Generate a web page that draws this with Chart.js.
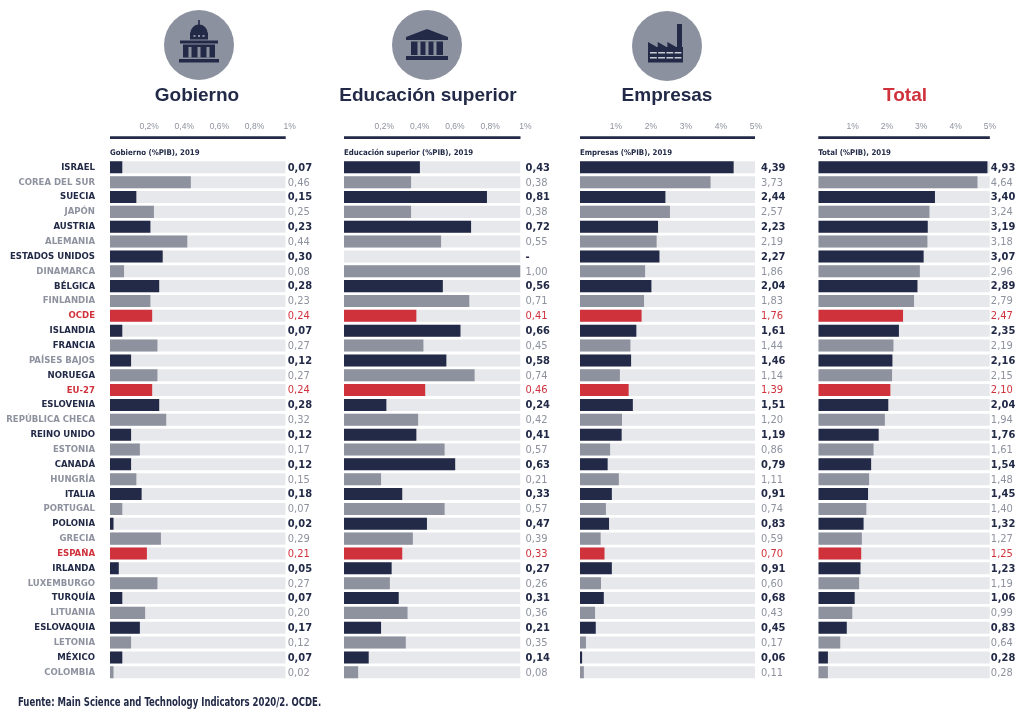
<!DOCTYPE html>
<html lang="es">
<head>
<meta charset="utf-8">
<title>I+D por sector (%PIB), 2019</title>
<script src="https://cdn.jsdelivr.net/npm/chart.js@4.4.1/dist/chart.umd.min.js"></script>
<style>
  html, body { margin: 0; padding: 0; background: #fff; }
  #lienzo { position: relative; width: 1024px; height: 720px; overflow: hidden; }
  #lienzo canvas { position: absolute; left: 0; top: 0; }
  .titulo {
    position: absolute; top: 84px; line-height: 23px; white-space: nowrap;
    transform: translateX(-50%);
    font: bold 19px "Liberation Sans", Arial, sans-serif; color: #222a47;
  }
  .fuente {
    position: absolute; left: 18px; top: 695px; line-height: 16px; white-space: nowrap;
    transform-origin: 0 50%; transform: scaleX(0.79);
    font: bold 12px "DejaVu Sans Condensed", "Liberation Sans", sans-serif;
    color: #222a47;
  }
</style>
</head>
<body>
<div id="lienzo">
  <canvas id="iconos" width="1024" height="720"></canvas>
  <canvas id="c1"></canvas>
  <canvas id="c2"></canvas>
  <canvas id="c3"></canvas>
  <canvas id="c4"></canvas>
  <div class="titulo" style="left:197px">Gobierno</div>
  <div class="titulo" style="left:428px">Educación superior</div>
  <div class="titulo" style="left:667px">Empresas</div>
  <div class="titulo" style="left:905px;color:#d0323c">Total</div>
  <div class="fuente">Fuente: Main Science and Technology Indicators 2020/2. OCDE.</div>
</div>
<script>
// --- DATOS (%PIB, 2019) ---
const paises = ['ISRAEL', 'COREA DEL SUR', 'SUECIA', 'JAPÓN', 'AUSTRIA', 'ALEMANIA', 'ESTADOS UNIDOS',
  'DINAMARCA', 'BÉLGICA', 'FINLANDIA', 'OCDE', 'ISLANDIA', 'FRANCIA', 'PAÍSES BAJOS', 'NORUEGA', 'EU-27',
  'ESLOVENIA', 'REPÚBLICA CHECA', 'REINO UNIDO', 'ESTONIA', 'CANADÁ', 'HUNGRÍA', 'ITALIA', 'PORTUGAL',
  'POLONIA', 'GRECIA', 'ESPAÑA', 'IRLANDA', 'LUXEMBURGO', 'TURQUÍA', 'LITUANIA', 'ESLOVAQUIA', 'LETONIA',
  'MÉXICO', 'COLOMBIA'];

const gobierno = [0.07, 0.46, 0.15, 0.25, 0.23, 0.44, 0.30, 0.08, 0.28, 0.23, 0.24, 0.07, 0.27, 0.12, 0.27,
  0.24, 0.28, 0.32, 0.12, 0.17, 0.12, 0.15, 0.18, 0.07, 0.02, 0.29, 0.21, 0.05, 0.27, 0.07, 0.20, 0.17, 0.12,
  0.07, 0.02];

const educacion = [0.43, 0.38, 0.81, 0.38, 0.72, 0.55, null, 1.00, 0.56, 0.71, 0.41, 0.66, 0.45, 0.58, 0.74,
  0.46, 0.24, 0.42, 0.41, 0.57, 0.63, 0.21, 0.33, 0.57, 0.47, 0.39, 0.33, 0.27, 0.26, 0.31, 0.36, 0.21, 0.35,
  0.14, 0.08];

const empresas = [4.39, 3.73, 2.44, 2.57, 2.23, 2.19, 2.27, 1.86, 2.04, 1.83, 1.76, 1.61, 1.44, 1.46, 1.14,
  1.39, 1.51, 1.20, 1.19, 0.86, 0.79, 1.11, 0.91, 0.74, 0.83, 0.59, 0.70, 0.91, 0.60, 0.68, 0.43, 0.45, 0.17,
  0.06, 0.11];

const total = [4.93, 4.64, 3.40, 3.24, 3.19, 3.18, 3.07, 2.96, 2.89, 2.79, 2.47, 2.35, 2.19, 2.16, 2.15,
  2.10, 2.04, 1.94, 1.76, 1.61, 1.54, 1.48, 1.45, 1.40, 1.32, 1.27, 1.25, 1.23, 1.19, 1.06, 0.99, 0.83, 0.64,
  0.28, 0.28];

// o = oscuro, c = claro, r = rojo (medias y España)
const tonoBarra = ['o','c','o','c','o','c','o','c','o','c','r','o','c','o','c','r','o','c','o','c','o','c',
  'o','c','o','c','r','o','c','o','c','o','c','o','c'];
const tonoEtiqueta = ['o','c','o','c','o','c','o','c','o','c','r','o','o','c','o','r','o','c','o','c','o','c',
  'o','c','o','c','r','o','c','o','c','o','c','o','c'];

const ticksUno = [0.2, 0.4, 0.6, 0.8, 1];
const ticksCinco = [1, 2, 3, 4, 5];
const maxUno = 1;
const maxCinco = 5;

// --- ESTILO ---
const AZUL = '#222a47';
const GRIS = '#8e929f';
const ROJO = '#d0323c';
const FONDO = '#e7e8eb';
const COND = '"DejaVu Sans Condensed", "Liberation Sans", sans-serif';
const SANS = '"Liberation Sans", Arial, sans-serif';

const colorTono = t => t === 'r' ? ROJO : (t === 'o' ? AZUL : GRIS);
const fmt = v => v === null ? '-' : v.toFixed(2).replace('.', ',');

const AREA_TOP = 159.9;
const AREA_BOTTOM = 679.7;
const LINEA_Y = 137.7;
const SUB_Y = 153.3;

function pluginPanel(subtitulo, valores, dx) {
  return {
    id: 'panel',
    afterDatasetsDraw(chart) {
      const { ctx, chartArea } = chart;
      const y = chart.scales.y;
      ctx.save();
      // línea del eje
      ctx.strokeStyle = AZUL;
      ctx.lineWidth = 2.8;
      ctx.beginPath();
      ctx.moveTo(chartArea.left, LINEA_Y);
      ctx.lineTo(chartArea.right, LINEA_Y);
      ctx.stroke();
      // subtítulo
      ctx.fillStyle = AZUL;
      ctx.font = 'bold 7.8px ' + COND;
      ctx.textBaseline = 'middle';
      ctx.textAlign = 'left';
      ctx.fillText(subtitulo, chartArea.left, SUB_Y);
      // valores
      valores.forEach((v, i) => {
        const t = tonoBarra[i];
        ctx.fillStyle = colorTono(t);
        ctx.font = (t === 'o' ? 'bold ' : '') + '11px ' + COND;
        ctx.fillText(fmt(v), chartArea.right + dx, y.getPixelForValue(i) + 0.5);
      });
      ctx.restore();
    }
  };
}

function crearPanel(id, valores, max, ticks, izq, der, subtitulo, dx, offTick, conPaises) {
  return new Chart(document.getElementById(id), {
    type: 'bar',
    data: {
      labels: paises,
      datasets: [
        {
          data: valores,
          backgroundColor: tonoBarra.map(colorTono),
          order: 0
        },
        {
          data: paises.map(() => max),
          backgroundColor: FONDO,
          order: 1
        }
      ]
    },
    options: {
      indexAxis: 'y',
      responsive: false,
      animation: false,
      events: [],
      datasets: {
        bar: { grouped: false, barPercentage: 0.81, categoryPercentage: 1, borderWidth: 0 }
      },
      layout: {
        padding: { left: 0, right: 1024 - der, top: 0, bottom: 720 - AREA_BOTTOM }
      },
      plugins: { legend: { display: false }, tooltip: { enabled: false } },
      scales: {
        x: {
          position: 'top',
          min: 0,
          max: max,
          grid: { display: false, drawTicks: false },
          border: { display: false },
          afterFit: s => { s.height = AREA_TOP; },
          afterBuildTicks: s => { s.ticks = ticks.map(v => ({ value: v })); },
          ticks: {
            color: GRIS,
            font: { family: SANS, size: 8.5 },
            padding: 28,
            labelOffset: offTick,
            maxRotation: 0,
            autoSkip: false,
            callback: v => String(v).replace('.', ',') + '%'
          }
        },
        y: {
          display: conPaises,
          grid: { display: false, drawTicks: false },
          border: { display: false },
          afterFit: s => { s.width = izq; },
          ticks: {
            autoSkip: false,
            padding: 15,
            color: c => colorTono(tonoEtiqueta[c.index]),
            font: { family: COND, size: 9.5, weight: 'bold' }
          }
        }
      }
    },
    plugins: [pluginPanel(subtitulo, valores, dx)]
  });
}

['c1', 'c2', 'c3', 'c4'].forEach(id => {
  const c = document.getElementById(id);
  c.width = 1024; c.height = 720;
});

crearPanel('c1', gobierno, maxUno, ticksUno, 110, 285.7, 'Gobierno (%PIB), 2019', 2, 4, true);
crearPanel('c2', educacion, maxUno, ticksUno, 344, 520.5, 'Educación superior (%PIB), 2019', 5, 5, false);
crearPanel('c3', empresas, maxCinco, ticksCinco, 580, 755, 'Empresas (%PIB), 2019', 6, 1, false);
crearPanel('c4', total, maxCinco, ticksCinco, 818.3, 993.3, 'Total (%PIB), 2019', 1, 0, false);

// --- ICONOS ---
const ic = document.getElementById('iconos').getContext('2d');

function circulo(x, y) {
  ic.fillStyle = '#8c919f';
  ic.beginPath();
  ic.arc(x, y, 35, 0, Math.PI * 2);
  ic.fill();
}

function iconoGobierno(cx, cy) {
  ic.fillStyle = AZUL;
  ic.fillRect(cx - 0.8, cy - 25, 1.6, 5);
  ic.beginPath();
  ic.arc(cx, cy - 12, 8.5, Math.PI, 0);
  ic.fill();
  ic.fillRect(cx - 9, cy - 12.5, 18, 7);
  ic.fillRect(cx - 19, cy - 4.5, 38, 3);
  ic.fillRect(cx - 16, cy - 0.5, 32, 13);
  ic.fillRect(cx - 20, cy + 14, 40, 3.5);
  ic.fillStyle = '#8c919f';
  [-5.5, -1, 3.5].forEach(d => ic.fillRect(cx + d, cy - 10, 2, 2));
  [-10.5, -1.5, 7.5].forEach(d => ic.fillRect(cx + d, cy + 2, 3, 10.5));
}

function iconoEducacion(cx, cy) {
  ic.fillStyle = AZUL;
  ic.beginPath();
  ic.moveTo(cx, cy - 16);
  ic.lineTo(cx + 21, cy - 8);
  ic.lineTo(cx - 21, cy - 8);
  ic.closePath();
  ic.fill();
  ic.fillRect(cx - 21, cy - 8, 42, 3);
  ic.fillRect(cx - 16, cy - 3.5, 32, 13.5);
  ic.fillRect(cx - 21, cy + 11, 42, 4);
  ic.fillStyle = '#8c919f';
  [-9.5, -1.5, 6.5].forEach(d => ic.fillRect(cx + d, cy - 3.5, 3, 13.5));
}

function iconoEmpresas(cx, cy) {
  ic.fillStyle = AZUL;
  ic.fillRect(cx + 10, cy - 22, 5, 24);
  ic.fillRect(cx - 19, cy + 1, 35, 15.5);
  const w = 9.7;
  for (let i = 0; i < 3; i++) {
    const x0 = cx - 19 + i * w;
    ic.beginPath();
    ic.moveTo(x0, cy + 1.5);
    ic.lineTo(x0, cy - 4);
    ic.lineTo(x0 + w, cy + 1.5);
    ic.closePath();
    ic.fill();
  }
  ic.fillStyle = '#c9ccd4';
  [cy + 6, cy + 11].forEach(yy => {
    for (let i = 0; i < 4; i++) ic.fillRect(cx - 17 + i * 8.2, yy, 6.8, 1.5);
  });
}

circulo(199, 45); iconoGobierno(199, 45);
circulo(427, 45); iconoEducacion(427, 45);
circulo(667, 46); iconoEmpresas(667, 46);
</script>
</body>
</html>
